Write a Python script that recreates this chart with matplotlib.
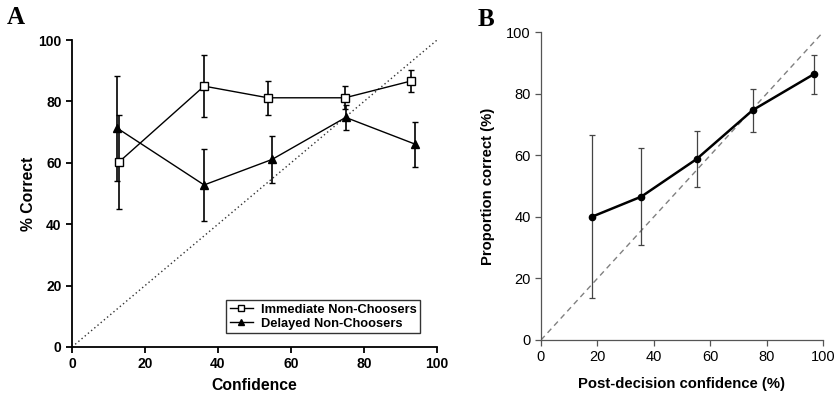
import numpy as np
import matplotlib
matplotlib.use('Agg')
from matplotlib import pyplot as plt
from matplotlib.lines import Line2D

plt.rcParams['font.family'] = ['Liberation Sans', 'DejaVu Sans']

# panel A
imm_x = [12.9, 36.2, 53.7, 74.8, 93.0]
imm_y = [60.3, 85.0, 81.2, 81.2, 86.7]
imm_err = [15.3, 10.1, 5.5, 3.8, 3.6]

del_x = [12.4, 36.2, 54.8, 75.0, 94.0]
del_y = [71.3, 52.8, 61.1, 74.8, 66.1]
del_err = [17.1, 11.7, 7.7, 4.0, 7.3]

# panel B
conf_x = [18.2, 35.6, 55.2, 75.1, 96.8]
prop_y = [40.1, 46.6, 58.8, 74.7, 86.4]
prop_err = [26.4, 15.7, 9.0, 7.0, 6.3]

ticks = [0, 20, 40, 60, 80, 100]

fig = plt.figure(figsize=(8.39, 3.97), dpi=100)

axA = fig.add_axes([0.0858, 0.126, 0.435, 0.773])
axA.plot([0, 100], [0, 100], ls=(0, (1, 2)), color='#333333', lw=1)
axA.errorbar(imm_x, imm_y, yerr=imm_err, color='black', marker='s', mfc='white',
             mec='black', ms=6, mew=1, lw=1, capsize=2.5, elinewidth=1.2, zorder=3)
axA.errorbar(del_x, del_y, yerr=del_err, color='black', marker='^', mfc='black',
             ms=6, lw=1, capsize=2.5, elinewidth=1.2, zorder=3)
axA.set_xlim(0, 100)
axA.set_ylim(0, 100)
axA.set_xticks(ticks)
axA.set_yticks(ticks)
for s in ['top', 'right']:
    axA.spines[s].set_visible(False)
for s in ['left', 'bottom']:
    axA.spines[s].set_linewidth(1.3)
axA.tick_params(width=1.3, length=4, labelsize=10)
for lab in axA.get_xticklabels() + axA.get_yticklabels():
    lab.set_fontweight('bold')
axA.set_xlabel('Confidence', fontsize=11.3, fontweight='bold', labelpad=5)
axA.set_ylabel('% Correct', fontsize=11.3, fontweight='bold', labelpad=2)
handles = [Line2D([], [], color='black', marker='s', mfc='white', ms=4, lw=1),
           Line2D([], [], color='black', marker='^', mfc='black', ms=4, lw=1)]
leg = axA.legend(handles, ['Immediate Non-Choosers', 'Delayed Non-Choosers'],
                 loc='lower right', bbox_to_anchor=(0.97, 0.025), frameon=True,
                 fancybox=False, edgecolor='black', handlelength=1.8,
                 prop={'weight': 'bold', 'size': 9.3}, borderpad=0.25,
                 labelspacing=0.15, handletextpad=0.6)
leg.get_frame().set_linewidth(1)
fig.text(0.008, 0.94, 'A', family='Liberation Serif', fontsize=18, fontweight='bold')

axB = fig.add_axes([0.6448, 0.1436, 0.336, 0.775])
axB.plot([0, 100], [0, 100], ls=(0, (4, 3)), color='#808080', lw=1)
axB.errorbar(conf_x, prop_y, yerr=prop_err, color='black', marker='o', ms=4.5,
             lw=1.8, capsize=2.5, elinewidth=0.9, ecolor='#444444',
             capthick=0.9, zorder=3)
axB.set_xlim(0, 100)
axB.set_ylim(0, 100)
axB.set_xticks(ticks)
axB.set_yticks(ticks)
for s in ['top', 'right']:
    axB.spines[s].set_visible(False)
for s in ['left', 'bottom']:
    axB.spines[s].set_color('#555555')
    axB.spines[s].set_linewidth(0.9)
axB.tick_params(color='#555555', width=0.9, length=4, labelsize=10.5)
axB.set_xlabel('Post-decision confidence (%)', fontsize=10.7, fontweight='bold', labelpad=9)
axB.set_ylabel('Proportion correct (%)', fontsize=10.7, fontweight='bold', labelpad=8)
fig.text(0.569, 0.935, 'B', family='Liberation Serif', fontsize=18, fontweight='bold')

plt.savefig('out.png', dpi=100)
